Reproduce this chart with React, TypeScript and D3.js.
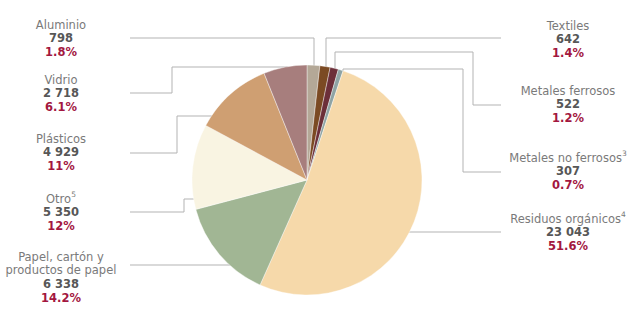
import React from "react";
import * as d3 from "d3";

const categories = ["Aluminio", "Textiles", "Metales ferrosos", "Metales no ferrosos", "Residuos orgánicos", "Papel, cartón y|productos de papel", "Otro", "Plásticos", "Vidrio"];
const superscripts = ["", "", "", "3", "4", "", "5", "", ""];
const values = [798, 642, 522, 307, 23043, 6338, 5350, 4929, 2718];
const valueLabels = ["798", "642", "522", "307", "23 043", "6 338", "5 350", "4 929", "2 718"];
const percentLabels = ["1.8%", "1.4%", "1.2%", "0.7%", "51.6%", "14.2%", "12%", "11%", "6.1%"];
const colors = ["#b4a897", "#7b4a23", "#6c2f39", "#8fa4a4", "#f6d9aa", "#a1b694", "#f9f4e2", "#cf9f72", "#a77e7d"];

const W = 640, H = 320;
const cx = 307, cy = 180, R = 115;

// label layout: [textX, firstLineY]
const labelPos: [number, number][] = [
  [61, 25], [568, 26], [568, 91], [568, 158], [568, 219], [61, 257], [61, 199], [61, 139], [61, 80],
];

export default function App() {
  const pie = d3.pie<number>().sort(null).value((d) => d).startAngle(0).endAngle(2 * Math.PI);
  const arcs = pie(values);
  const arc = d3.arc<d3.PieArcDatum<number>>().innerRadius(0).outerRadius(R);
  const edgeX = (y: number, side: number) => cx + side * Math.sqrt(R * R - (y - cy) * (y - cy));
  const edgeY = (x: number) => cy - Math.sqrt(R * R - (x - cx) * (x - cx));

  const leaders: [number, number][][] = [
    [[130, 38], [314, 38], [314, edgeY(314) + 2]],
    [[501, 38], [326, 38], [326, edgeY(326) + 2]],
    [[501, 105], [473, 105], [473, 52], [335, 52], [335, edgeY(335) + 2]],
    [[501, 172], [463, 172], [463, 69], [343, 69], [343, edgeY(343) + 2]],
    [[501, 232], [edgeX(232, 1) - 2, 232]],
    [[130, 265], [edgeX(265, -1) + 2, 265]],
    [[130, 212], [184, 212], [184, 199], [edgeX(199, -1) + 2, 199]],
    [[130, 153], [177, 153], [177, 116], [edgeX(116, -1) + 2, 116]],
    [[130, 93], [172, 93], [172, 67], [edgeX(67, -1) + 2, 67]],
  ];
  const line = d3.line();
  const lh = 13.8;

  return (
    <svg width={W} height={H} style={{ position: "absolute", left: 0, top: 0 }} fontFamily="'DejaVu Sans', sans-serif">
      <g>
        {leaders.map((pts, i) => (
          <path key={i} d={line(pts) || ""} fill="none" stroke="#b3b3b3" strokeWidth={1} />
        ))}
      </g>
      <g transform={`translate(${cx},${cy})`}>
        {arcs.map((a, i) => (
          <path key={i} d={arc(a) || ""} fill={colors[i]} stroke="#ffffff" strokeWidth={0.4} />
        ))}
      </g>
      <g textAnchor="middle" fontSize={11.5} dominantBaseline="middle">
        {categories.map((c, i) => {
          const [x, y] = labelPos[i];
          const lines = c.split("|");
          return (
            <g key={i}>
              {lines.map((l, j) => (
                <text key={j} x={x} y={y + j * lh} fill="#7a7a7a">
                  {l}
                  {j === lines.length - 1 && superscripts[i] ? (
                    <tspan fontSize={7.5} dy={-4}>{superscripts[i]}</tspan>
                  ) : null}
                </text>
              ))}
              <text x={x} y={y + lines.length * lh} fill="#575757" fontWeight="bold">{valueLabels[i]}</text>
              <text x={x} y={y + (lines.length + 1) * lh} fill="#a3173f" fontWeight="bold">{percentLabels[i]}</text>
            </g>
          );
        })}
      </g>
    </svg>
  );
}
